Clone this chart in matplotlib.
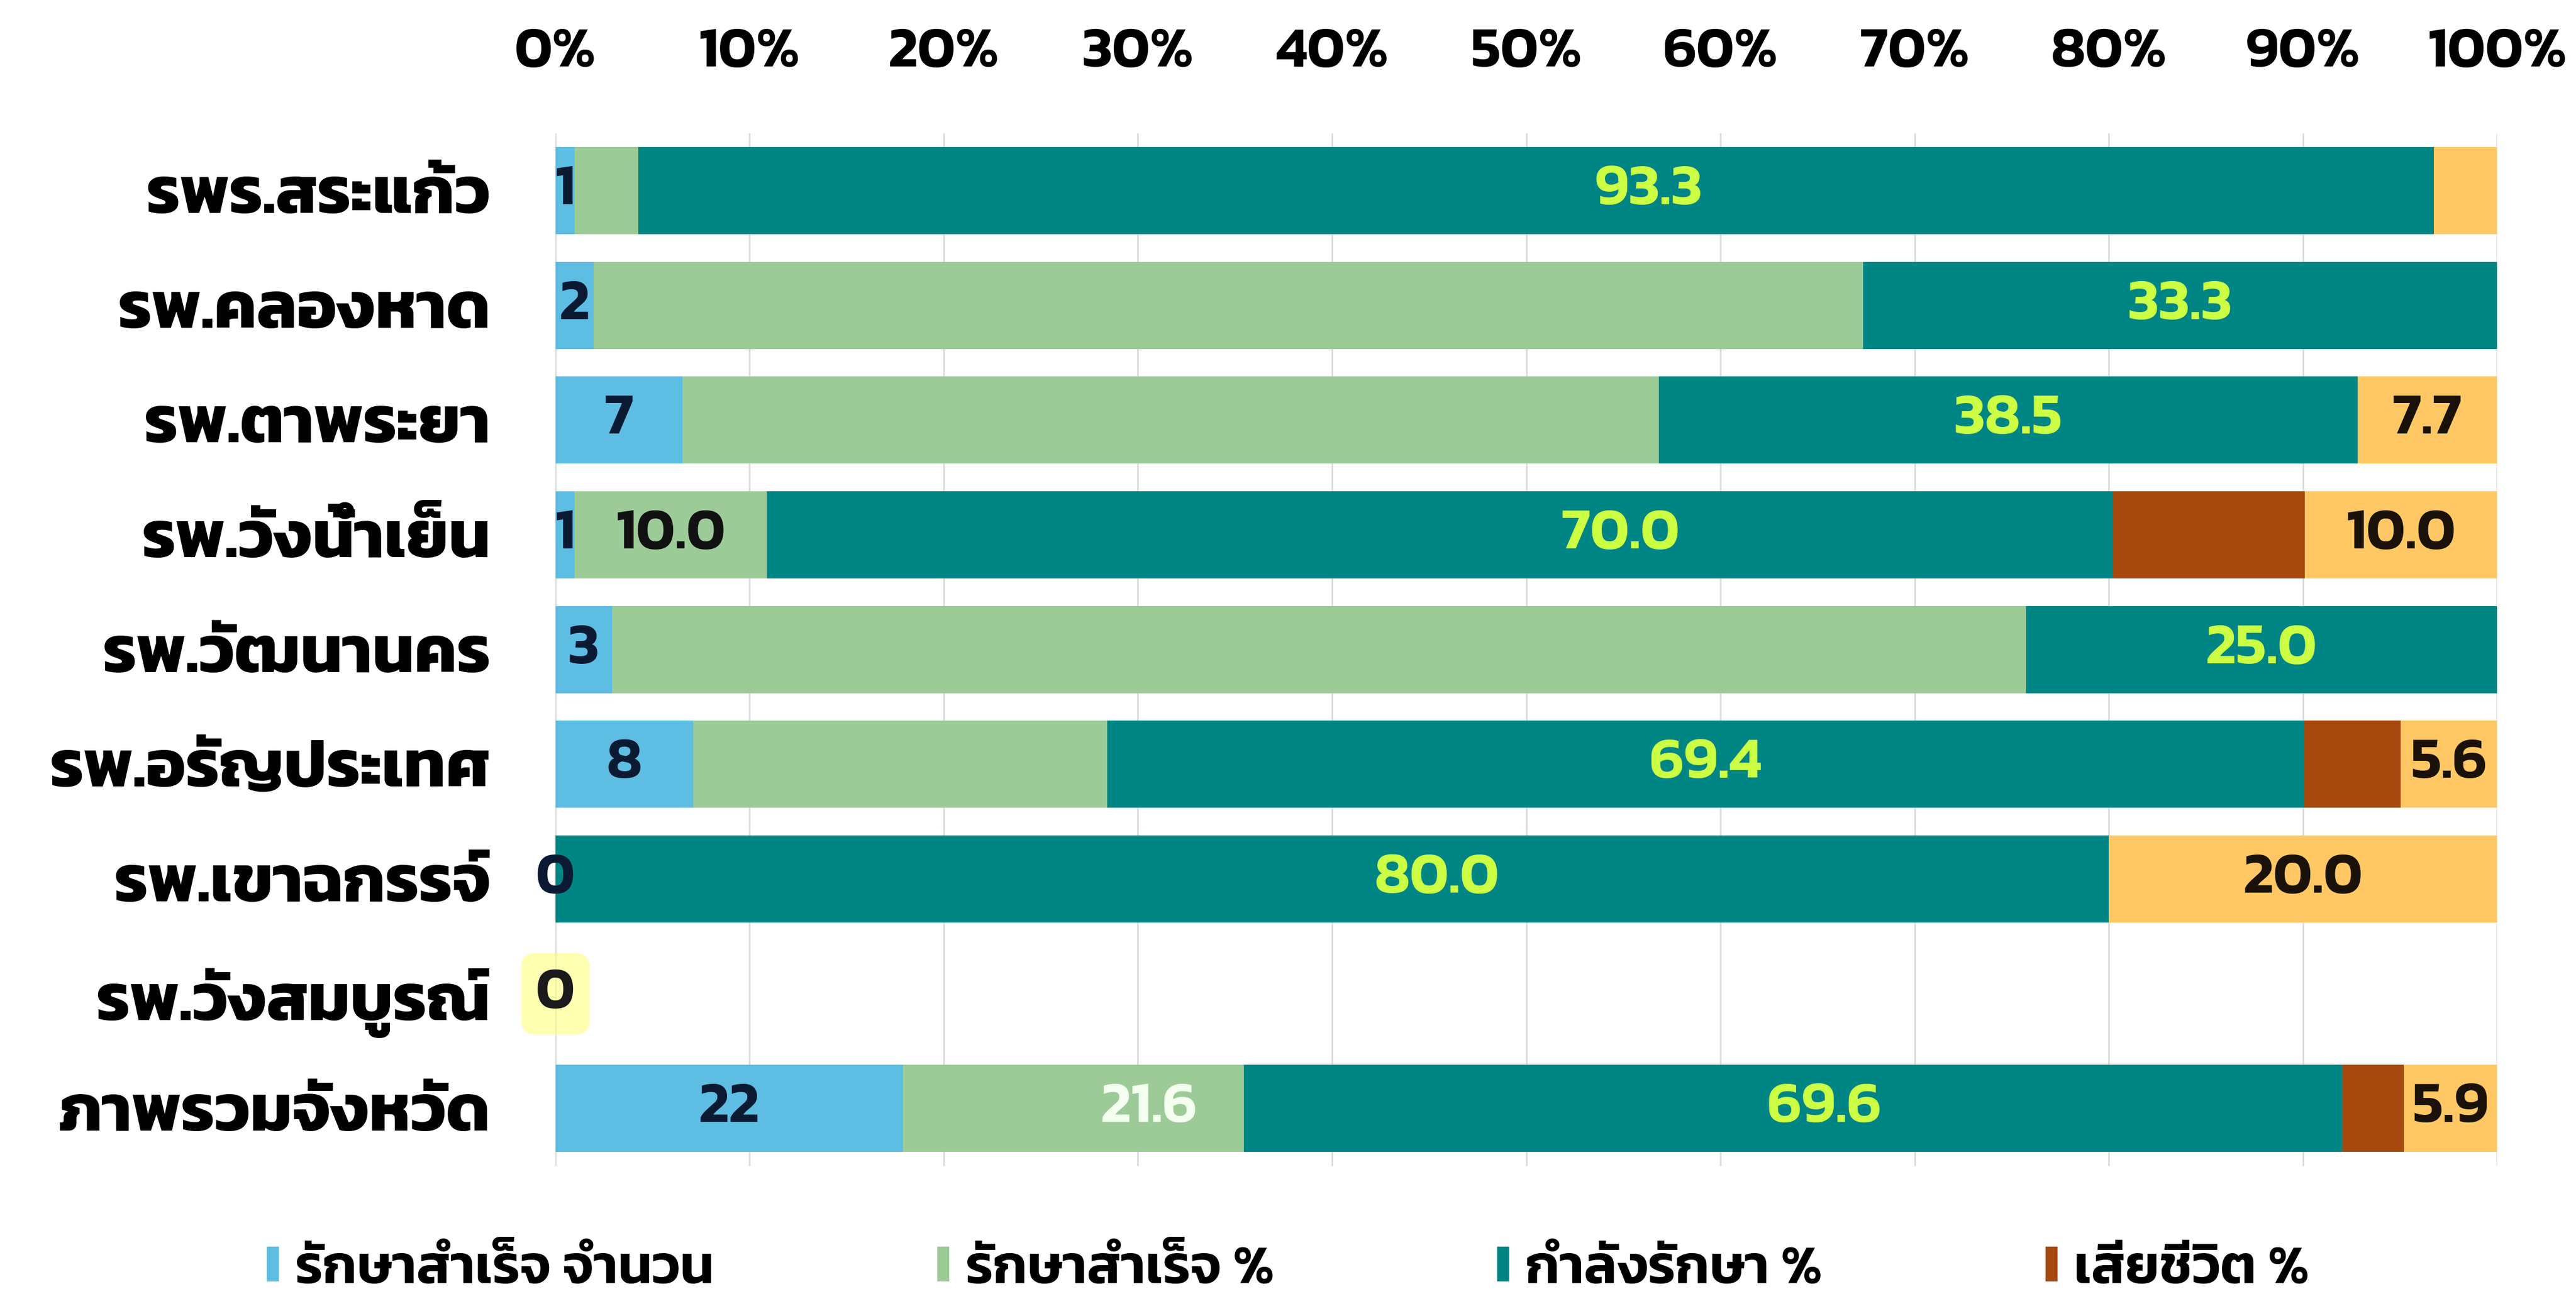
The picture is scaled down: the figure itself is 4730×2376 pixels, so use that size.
import numpy as np
import matplotlib
matplotlib.use('Agg')
import matplotlib.pyplot as plt

# data (100% stacked, raw values are normalised per row)
hospitals = ['รพร.สระแก้ว', 'รพ.คลองหาด', 'รพ.ตาพระยา', 'รพ.วังน้ำเย็น', 'รพ.วัฒนานคร',
             'รพ.อรัญประเทศ', 'รพ.เขาฉกรรจ์', 'รพ.วังสมบูรณ์', 'ภาพรวมจังหวัด']
cured_count = [1, 2, 7, 1, 3, 8, 0, 0, 22]
cured_pct = [3.3, 66.7, 53.8, 10.0, 75.0, 24.0, 0, 0, 21.6]
treating_pct = [93.3, 33.3, 38.5, 70.0, 25.0, 69.4, 80.0, 0, 69.6]
died_pct = [0, 0, 0, 10.0, 0, 5.6, 0, 0, 3.9]
other_pct = [3.3, 0, 7.7, 10.0, 0, 5.6, 20.0, 0, 5.9]

legend_names = ['รักษาสำเร็จ จำนวน', 'รักษาสำเร็จ %', 'กำลังรักษา %', 'เสียชีวิต %']

plt.rcParams['font.family'] = ['Kanit', 'DejaVu Sans']
plt.rcParams['font.weight'] = 600

series = [cured_count, cured_pct, treating_pct, died_pct, other_pct]
colors = ['#5DBDE3', '#9CCB98', '#008585', '#A6490F', '#FFC864']
vals = np.array(series, dtype=float)
totals = vals.sum(axis=0)
share = np.divide(vals, totals, out=np.zeros_like(vals), where=totals > 0) * 100

fig = plt.figure(figsize=(47.3, 23.76), dpi=100)
ax = fig.add_axes([0.2156, 0.099, 0.7538, 0.798])
y = np.arange(len(hospitals))

left = np.zeros(len(hospitals))
bars = []
for i, s in enumerate(share):
    lab = legend_names[i] if i < len(legend_names) else '_nolegend_'
    ax.barh(y, s, left=left, height=0.76, color=colors[i], label=lab, zorder=2)
    bars.append((left.copy(), s))
    left += s

LABEL_SIZE = 78


# data labels, centred in their segment (a few were dragged by hand in the original)
def put(series_idx, row, text, color, nudge=0.0, **kw):
    l, w = bars[series_idx]
    ax.text(l[row] + w[row] / 2 + nudge, row, text, ha='center', va='center',
            color=color, fontsize=LABEL_SIZE, fontweight=600, zorder=3, **kw)


for r, v in enumerate(cured_count):
    if r == 7:
        put(0, r, str(v), '#1A1A1A',
            bbox=dict(boxstyle='round,pad=0.25', fc='#FFFF66', ec='none', alpha=0.5))
    else:
        put(0, r, str(v), '#0B1A33')

cured_shown = {3: ('#111111', 0.0), 8: ('#F4FFF0', 3.9)}
for r, (c, n) in cured_shown.items():
    put(1, r, f'{cured_pct[r]:.1f}', c, n)

treat_nudge = {0: 5.8, 3: 9.3, 6: 5.4, 8: 1.6}
for r, v in enumerate(treating_pct):
    if v > 0:
        put(2, r, f'{v:.1f}', '#CCFF44', treat_nudge.get(r, 0.0))

for r in [2, 3, 5, 6, 8]:
    put(4, r, f'{other_pct[r]:.1f}', '#1A1208')

ax.set_xlim(0, 100)
ax.set_ylim(len(hospitals) - 0.5, -0.5)
ax.set_xticks(range(0, 101, 10))
ax.set_xticklabels([f'{t}%' for t in range(0, 101, 10)])
ax.xaxis.tick_top()
ax.set_yticks(y)
ax.set_yticklabels(hospitals, fontweight=700)
ax.tick_params(axis='x', length=0, pad=72, labelsize=76)
ax.tick_params(axis='y', length=0, pad=86, labelsize=88)
ax.grid(axis='x', color='#D9D9D9', lw=2, zorder=0)
for sp in ax.spines.values():
    sp.set_visible(False)

handles, labels = ax.get_legend_handles_labels()
fig.legend(handles, labels, loc='center', bbox_to_anchor=(0.5, 0.018), ncol=4, frameon=False,
           fontsize=72, handlelength=0.22, handleheight=0.6, handletextpad=0.3, columnspacing=4.1)

fig.savefig('out.png', dpi=100, facecolor='white')
